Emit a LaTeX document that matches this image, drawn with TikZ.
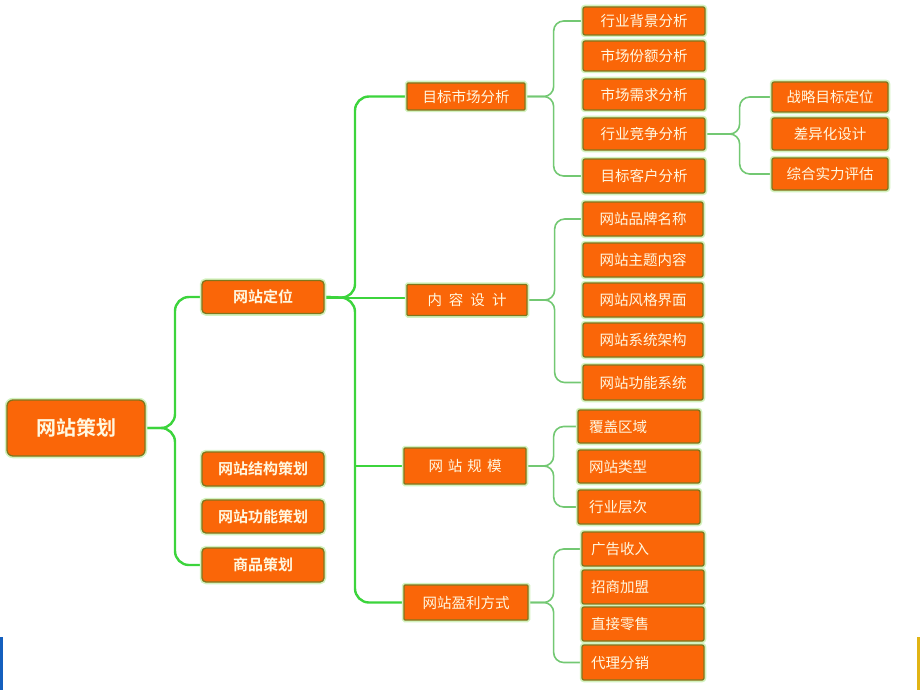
\documentclass[tikz,border=0pt]{standalone}
\usepackage{fontspec}
\newfontfamily\cjk{Noto Sans CJK SC}
\newfontfamily\cjkb{Noto Sans CJK SC Bold}
\definecolor{boxfill}{RGB}{250,102,8}
\definecolor{boxedge}{RGB}{128,118,28}
\definecolor{glow}{RGB}{210,242,190}
\definecolor{txt}{RGB}{255,248,225}
\definecolor{mainline}{RGB}{60,212,60}
\definecolor{leafline}{RGB}{115,200,115}
\definecolor{barblue}{RGB}{20,95,190}
\definecolor{bargold}{RGB}{225,180,20}
\pgfdeclarelayer{bg}
\pgfsetlayers{bg,main}
\tikzset{
  box/.style={fill=boxfill, draw=boxedge, line width=1.3pt,
    preaction={draw=glow, line width=4.5pt},
    text=txt, inner sep=0pt, font=\cjk\fontsize{14.5}{15}\selectfont},
  rootbox/.style={box, rounded corners=6pt, font=\cjkb\fontsize{20}{22}\selectfont},
  lonebox/.style={box, rounded corners=4pt, minimum width=122pt, font=\cjkb\fontsize{15}{16}\selectfont},
  midbox/.style={box, rounded corners=1pt},
  leafbox/.style={box, rounded corners=2pt},
  leftleaf/.style={leafbox, align=left},
  mainconn/.style={draw=mainline, line width=2.4pt, rounded corners=14pt},
  leafconn/.style={draw=leafline, line width=1.6pt, rounded corners=10pt}
}
\begin{document}
\begin{tikzpicture}[x=1pt,y=-1pt]
\useasboundingbox (0,0) rectangle (920,690);
% bottom corner bars
\fill[barblue] (0,637) rectangle (3,690);
\fill[bargold] (917,637) rectangle (920,690);

\coordinate (rj) at (175,428);
\coordinate (t1) at (355,298);

% nodes
\node[rootbox, minimum width=138pt, minimum height=56pt] (root) at (76,428) {网站策划};
\node[lonebox, minimum height=33pt] (l1a) at (263,297) {网站定位};
\node[lonebox, minimum height=34pt] (l1b) at (263,469) {网站结构策划};
\node[lonebox, minimum height=33pt] (l1c) at (263,516.5) {网站功能策划};
\node[lonebox, minimum height=34pt] (l1d) at (263,565) {商品策划};

\node[midbox, minimum width=118pt, minimum height=27pt] (m1) at (466,96.5) {目标市场分析};
\node[midbox, minimum width=120pt, minimum height=31pt] (m2) at (467,300) {内\hspace{7pt}容\hspace{7pt}设\hspace{7pt}计};
\node[midbox, minimum width=122pt, minimum height=36pt] (m3) at (465,466) {网\hspace{5pt}站\hspace{5pt}规\hspace{5pt}模};
\node[midbox, minimum width=124pt, minimum height=35pt] (m4) at (466,602.5) {网站盈利方式};

\node[leafbox, minimum width=122pt, minimum height=28pt] (a1) at (644,21) {行业背景分析};
\node[leafbox, minimum width=122pt, minimum height=30pt] (a2) at (644,56) {市场份额分析};
\node[leafbox, minimum width=122pt, minimum height=31pt] (a3) at (644,94.5) {市场需求分析};
\node[leafbox, minimum width=122pt, minimum height=32pt] (a4) at (644,134) {行业竞争分析};
\node[leafbox, minimum width=122pt, minimum height=34pt] (a5) at (644,176) {目标客户分析};

\node[leafbox, minimum width=116pt, minimum height=30pt] (b1) at (830,97) {战略目标定位};
\node[leafbox, minimum width=116pt, minimum height=32pt] (b2) at (830,134) {差异化设计};
\node[leafbox, minimum width=116pt, minimum height=32pt] (b3) at (830,174) {综合实力评估};

\node[leafbox, minimum width=120pt, minimum height=34pt] (c1) at (643,219) {网站品牌名称};
\node[leafbox, minimum width=120pt, minimum height=34pt] (c2) at (643,260) {网站主题内容};
\node[leafbox, minimum width=120pt, minimum height=34pt] (c3) at (643,300) {网站风格界面};
\node[leafbox, minimum width=120pt, minimum height=34pt] (c4) at (643,340) {网站系统架构};
\node[leafbox, minimum width=120pt, minimum height=35pt] (c5) at (643,382.5) {网站功能系统};

\node[leftleaf, minimum width=122pt, minimum height=33pt, text width=100pt] (d1) at (639,426.5) {覆盖区域};
\node[leftleaf, minimum width=122pt, minimum height=33pt, text width=100pt] (d2) at (639,466.5) {网站类型};
\node[leftleaf, minimum width=122pt, minimum height=34pt, text width=100pt] (d3) at (639,507) {行业层次};

\node[leftleaf, minimum width=122pt, minimum height=34pt, text width=104pt] (e1) at (643,549) {广告收入};
\node[leftleaf, minimum width=122pt, minimum height=34pt, text width=104pt] (e2) at (643,587) {招商加盟};
\node[leftleaf, minimum width=122pt, minimum height=34pt, text width=104pt] (e3) at (643,624) {直接零售};
\node[leftleaf, minimum width=122pt, minimum height=35pt, text width=104pt] (e4) at (643,662.5) {代理分销};

% connectors behind boxes
\begin{pgfonlayer}{bg}
\draw[mainconn] (root.east) -- (rj) |- (l1a.west);
\draw[mainconn] (root.east) -- (rj) |- (l1d.west);

\draw[mainconn] (l1a.east) -- (t1) |- (m1.west);
\draw[mainconn] (l1a.east) -- (t1) |- (m4.west);
\draw[mainconn, rounded corners=0pt] (l1a.east |- t1) -- (m2.west |- t1);
\draw[mainconn, rounded corners=0pt] (t1 |- m3.west) -- (m3.west);

\draw[leafconn] (m1.east) -- ++(28,0) |- (a1.west);
\draw[leafconn] (m1.east) -- ++(28,0) |- (a5.west);
\draw[leafconn] (a4.east) -- ++(34,0) |- (b1.west);
\draw[leafconn] (a4.east) -- ++(34,0) |- (b3.west);
\draw[leafconn] (m2.east) -- ++(27,0) |- (c1.west);
\draw[leafconn] (m2.east) -- ++(27,0) |- (c5.west);
\draw[leafconn] (m3.east) -- ++(27,0) |- (d1.west);
\draw[leafconn] (m3.east) -- ++(27,0) |- (d3.west);
\draw[leafconn] (m4.east) -- ++(25,0) |- (e1.west);
\draw[leafconn] (m4.east) -- ++(25,0) |- (e4.west);
\end{pgfonlayer}
\end{tikzpicture}
\end{document}
